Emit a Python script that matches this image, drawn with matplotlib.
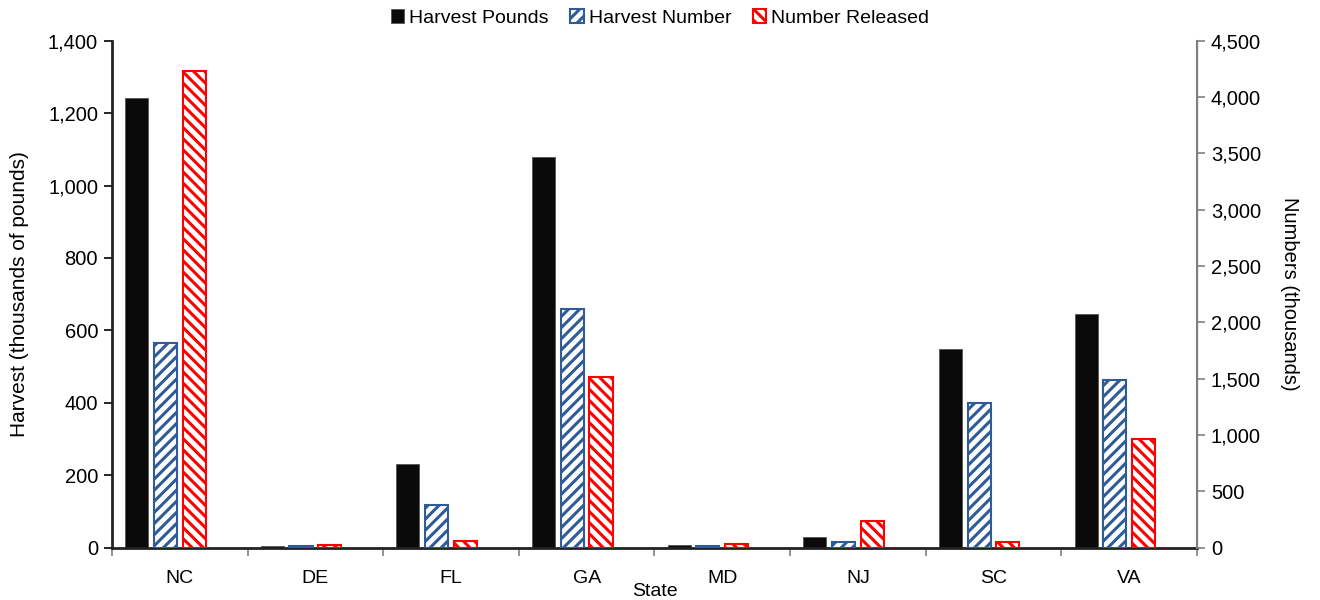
import matplotlib
matplotlib.use('Agg')
import matplotlib.pyplot as plt
import numpy as np
from matplotlib.ticker import FuncFormatter, FixedLocator

# values
states = ['NC', 'DE', 'FL', 'GA', 'MD', 'NJ', 'SC', 'VA']
harvest_pounds = [1241, 4, 231, 1078, 7, 30, 548, 644]        # thousands of pounds (left axis)
harvest_number = [1813, 9, 375, 2118, 13, 46, 1280, 1487]     # thousands (right axis)
number_released = [4234, 18, 60, 1511, 28, 233, 49, 961]      # thousands (right axis)

plt.rcParams['font.family'] = ['Liberation Sans', 'DejaVu Sans']
plt.rcParams['font.size'] = 14
plt.rcParams['hatch.linewidth'] = 2.2

fig = plt.figure(figsize=(13.2, 6), dpi=100)
ax = fig.add_axes([0.0848, 0.0875, 0.822, 0.8445])
ax2 = ax.twinx()

x = np.arange(len(states))
w = 0.17
pitch = 0.212

b1 = ax.bar(x - 1.5 * pitch, harvest_pounds, w, color='#0a0a0a', edgecolor='#555555',
            linewidth=0.6, label='Harvest Pounds')
b2 = ax2.bar(x - 0.5 * pitch, harvest_number, w, color='white', edgecolor='#2f5b96',
             hatch='///', linewidth=1.5, label='Harvest Number')
b3 = ax2.bar(x + 0.5 * pitch, number_released, w, color='white', edgecolor='#ff0000',
             hatch='\\\\\\', linewidth=1.5, label='Number Released')

ax.set_xlim(-0.5, len(states) - 0.5)
ax.set_ylim(0, 1400)
ax2.set_ylim(0, 4500)
ax.set_yticks(np.arange(0, 1401, 200))
ax2.set_yticks(np.arange(0, 4501, 500))
fmt = FuncFormatter(lambda v, p: f'{int(v):,}')
ax.yaxis.set_major_formatter(fmt)
ax2.yaxis.set_major_formatter(fmt)

ax.set_xticks(x)
ax.set_xticklabels(states)
ax.xaxis.set_minor_locator(FixedLocator(np.arange(-0.5, len(states), 1)))
ax.tick_params(axis='x', which='major', length=0, pad=16, labelsize=14)
ax.tick_params(axis='x', which='minor', length=6, width=1.2, color='#808080', direction='out')
ax.tick_params(axis='y', length=6, width=1.2, direction='out', pad=4, labelsize=14.5)
ax2.tick_params(axis='y', length=6, width=1.2, direction='out', color='#808080', pad=4,
                labelsize=14.5)

for a in (ax, ax2):
    a.spines['top'].set_visible(False)
ax.spines['left'].set_linewidth(2)
ax.spines['left'].set_color('#222222')
ax.spines['bottom'].set_linewidth(2)
ax.spines['bottom'].set_color('#222222')
ax2.spines['left'].set_visible(False)
ax2.spines['bottom'].set_visible(False)
ax2.spines['right'].set_color('#808080')
ax2.spines['right'].set_linewidth(1.5)

ax.set_ylabel('Harvest (thousands of pounds)', fontsize=15)
ax.yaxis.set_label_coords(-0.076, 0.5)
ax2.set_ylabel('Numbers (thousands)', rotation=270, fontsize=14.5)
ax2.yaxis.set_label_coords(1.094, 0.5)
ax.set_xlabel('State', fontsize=14)
ax.xaxis.set_label_coords(0.5, -0.07)

fig.legend(handles=[b1, b2, b3], loc='center', bbox_to_anchor=(0.5, 0.97), ncol=3,
           frameon=False, handlelength=0.7, handleheight=0.7, handletextpad=0.25,
           columnspacing=1.1, fontsize=14)

fig.savefig('out.png', dpi=100)
